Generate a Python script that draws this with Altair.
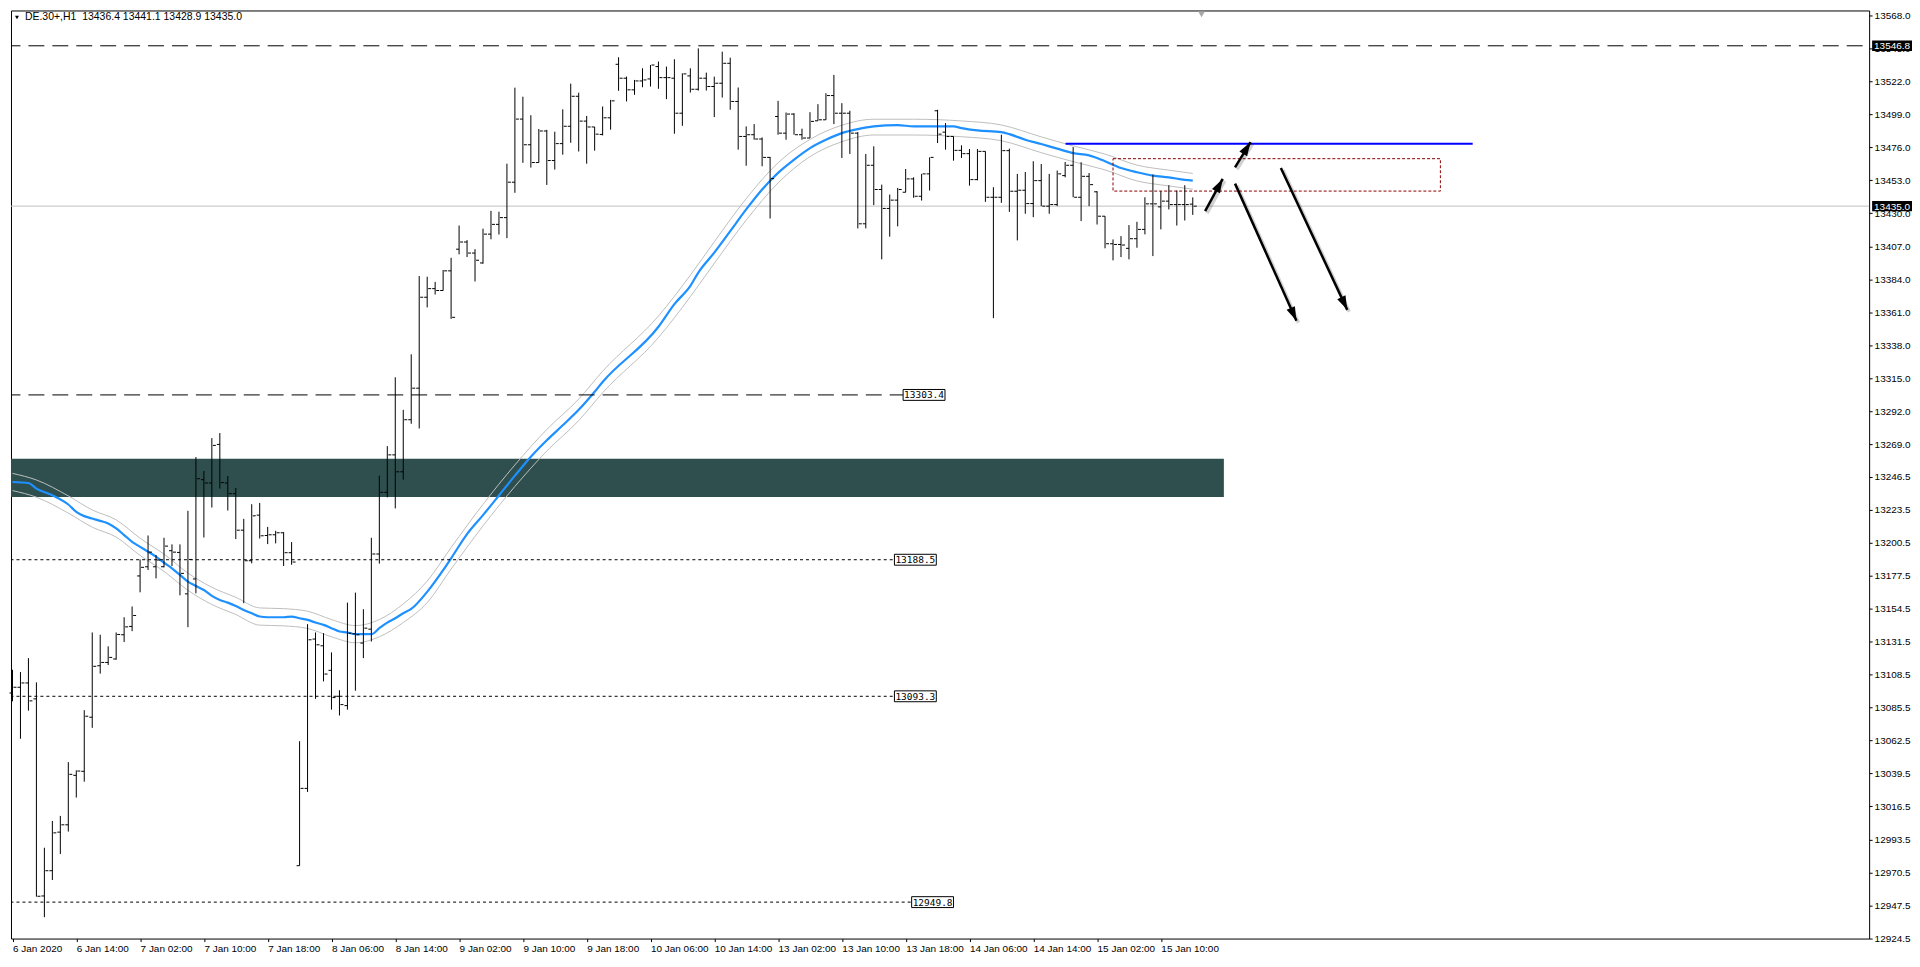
import altair as alt
import pandas as pd

# ---------------- data (DE.30+, H1) ----------------
# bar index 0 = 6 Jan 2020 06:00, one bar per trading hour
opens = [13095.6, 13099.6, 13102.6, 13091.5, 12954.1, 12971.7, 12998.6, 13003.7, 13038.2, 13041.0,
         13078.7, 13114.6, 13116.9, 13119.3, 13136.2, 13142.0, 13177.2, 13183.6, 13183.6, 13183.6,
         13194.8, 13193.6, 13164.7, 13175.1, 13244.3, 13242.0, 13268.9, 13242.0, 13234.6, 13209.1,
         13187.8, 13219.6, 13205.4, 13205.9, 13207.3, 13193.4, 12975.2, 13029.1, 13133.2, 13128.5,
         13111.4, 13093.3, 13086.8, 13136.9, 13130.4, 13140.1, 13192.5, 13235.5, 13261.6, 13249.8,
         13286.1, 13308.1, 13371.5, 13377.5, 13376.2, 13389.9, 13405.0, 13410.0, 13402.3, 13395.4,
         13415.5, 13422.3, 13427.0, 13451.7, 13495.7, 13477.8, 13465.4, 13487.4, 13466.8, 13478.6,
         13490.7, 13511.6, 13494.3, 13490.2, 13485.0, 13496.6, 13533.9, 13524.2, 13516.1, 13522.3,
         13523.7, 13532.3, 13524.6, 13524.2, 13499.8, 13525.8, 13516.5, 13524.2, 13518.4, 13520.7,
         13534.6, 13508.0, 13483.6, 13484.8, 13481.8, 13469.0, 13497.5, 13485.9, 13499.2, 13484.8,
         13482.5, 13494.5, 13495.2, 13512.1, 13499.8, 13499.8, 13485.9, 13422.7, 13463.5, 13446.6,
         13433.4, 13439.2, 13444.7, 13454.0, 13441.9, 13457.5, 13501.5, 13486.6, 13483.6, 13473.9,
         13471.6, 13453.5, 13473.2, 13441.2, 13441.2, 13473.7, 13445.4, 13446.1, 13436.8, 13452.8,
         13435.0, 13436.1, 13456.3, 13463.5, 13441.2, 13455.8, 13445.0, 13428.0, 13408.8, 13408.3,
         13405.6, 13412.3, 13418.8, 13436.6, 13434.5, 13438.5, 13436.1, 13436.1, 13436.4]
highs = [13111.8, 13110.2, 13119.9, 13103.0, 12987.7, 13006.4, 13009.9, 13047.4, 13041.7, 13083.6,
         13137.8, 13136.2, 13128.1, 13137.8, 13148.4, 13155.9, 13188.7, 13205.4, 13191.8, 13203.8,
         13199.2, 13199.2, 13222.6, 13260.1, 13250.4, 13273.3, 13276.8, 13246.9, 13238.5, 13217.0,
         13227.2, 13228.1, 13211.4, 13208.7, 13207.7, 13200.8, 13062.0, 13143.6, 13137.8, 13137.3,
         13123.9, 13097.5, 13158.6, 13165.6, 13154.0, 13203.8, 13247.1, 13267.7, 13315.7, 13293.0,
         13331.7, 13386.3, 13385.8, 13382.2, 13390.5, 13399.0, 13421.5, 13411.3, 13405.0, 13419.3,
         13431.7, 13431.1, 13464.6, 13517.6, 13511.3, 13498.4, 13488.8, 13488.2, 13486.9, 13502.5,
         13520.4, 13514.1, 13497.9, 13490.2, 13504.5, 13509.1, 13538.8, 13525.3, 13523.0, 13531.1,
         13533.4, 13535.8, 13532.3, 13537.4, 13527.6, 13531.1, 13545.0, 13528.1, 13525.3, 13542.7,
         13538.5, 13517.7, 13490.6, 13492.2, 13482.9, 13469.3, 13508.4, 13500.3, 13499.8, 13489.0,
         13500.5, 13506.1, 13513.7, 13526.5, 13506.8, 13501.5, 13486.6, 13471.4, 13476.7, 13450.0,
         13443.1, 13447.7, 13460.9, 13455.1, 13457.5, 13469.0, 13502.2, 13492.9, 13483.6, 13477.4,
         13474.8, 13474.8, 13473.2, 13448.2, 13484.8, 13475.1, 13457.5, 13458.8, 13466.3, 13464.4,
         13457.5, 13459.8, 13465.8, 13476.2, 13465.6, 13458.1, 13445.4, 13428.0, 13411.8, 13414.1,
         13421.8, 13424.1, 13441.2, 13457.0, 13445.4, 13449.6, 13445.9, 13449.6, 13441.1]
lows = [13089.8, 13063.7, 13083.3, 12953.6, 12939.3, 12965.2, 12983.3, 12999.0, 13022.7, 13033.8,
        13071.3, 13109.1, 13115.1, 13118.8, 13131.1, 13138.7, 13165.8, 13181.3, 13175.5, 13183.2,
        13184.1, 13163.7, 13141.5, 13165.1, 13204.0, 13224.9, 13238.1, 13222.8, 13202.9, 13158.2,
        13186.0, 13203.3, 13199.4, 13199.9, 13184.1, 13185.0, 12975.2, 13026.6, 13091.5, 13103.7,
        13084.0, 13079.9, 13084.0, 13097.2, 13119.9, 13131.5, 13185.8, 13232.0, 13224.3, 13244.3,
        13283.3, 13280.0, 13364.4, 13373.4, 13376.2, 13356.4, 13401.4, 13399.5, 13382.5, 13394.9,
        13411.9, 13415.2, 13412.7, 13444.3, 13465.2, 13461.9, 13465.4, 13449.8, 13460.5, 13470.9,
        13479.2, 13473.1, 13464.6, 13473.7, 13484.3, 13488.3, 13515.4, 13508.0, 13512.6, 13517.9,
        13518.4, 13516.8, 13509.6, 13485.5, 13491.0, 13514.2, 13515.6, 13515.6, 13497.1, 13510.7,
        13502.2, 13474.4, 13463.2, 13481.3, 13462.8, 13426.4, 13484.8, 13481.3, 13484.8, 13481.3,
        13482.5, 13494.5, 13495.2, 13492.2, 13468.6, 13471.4, 13419.5, 13419.5, 13435.7, 13397.9,
        13413.7, 13420.9, 13444.7, 13440.8, 13438.9, 13445.9, 13479.0, 13474.4, 13466.7, 13468.6,
        13449.3, 13453.0, 13438.0, 13356.9, 13437.3, 13431.0, 13411.1, 13429.7, 13427.3, 13435.0,
        13429.7, 13435.0, 13455.1, 13441.2, 13424.6, 13435.0, 13422.2, 13405.6, 13397.2, 13399.5,
        13397.9, 13406.0, 13415.3, 13400.2, 13418.8, 13432.7, 13421.5, 13425.0, 13428.9]
closes = [13099.6, 13102.6, 13090.1, 12953.9, 12971.7, 12998.1, 13003.7, 13038.9, 13041.2, 13079.4,
          13114.2, 13116.9, 13120.4, 13136.4, 13141.7, 13149.6, 13183.2, 13193.8, 13188.3, 13198.0,
          13193.8, 13179.0, 13188.7, 13245.0, 13242.0, 13268.2, 13242.3, 13234.6, 13209.1, 13187.8,
          13219.1, 13205.2, 13205.9, 13207.3, 13193.4, 13186.9, 13029.1, 13132.7, 13129.2, 13108.8,
          13092.4, 13087.5, 13137.3, 13136.2, 13140.8, 13192.5, 13235.5, 13261.6, 13249.8, 13286.1,
          13308.1, 13371.5, 13377.5, 13376.2, 13389.9, 13357.5, 13410.0, 13402.3, 13397.3, 13415.5,
          13422.3, 13427.0, 13451.7, 13495.7, 13477.8, 13465.4, 13487.4, 13466.8, 13478.6, 13490.7,
          13511.6, 13494.3, 13490.2, 13485.2, 13496.6, 13508.4, 13524.2, 13516.1, 13522.3, 13523.0,
          13533.4, 13524.6, 13524.6, 13499.8, 13527.2, 13516.5, 13524.2, 13518.4, 13520.7, 13534.6,
          13508.0, 13483.6, 13484.8, 13481.8, 13469.0, 13454.2, 13485.9, 13499.2, 13484.8, 13482.5,
          13494.1, 13495.2, 13512.1, 13499.8, 13499.8, 13485.9, 13422.7, 13463.5, 13446.6, 13433.4,
          13439.2, 13446.6, 13454.0, 13441.9, 13457.5, 13469.0, 13485.2, 13483.6, 13473.9, 13471.6,
          13453.5, 13473.2, 13441.2, 13441.2, 13473.7, 13445.4, 13446.1, 13436.8, 13452.8, 13435.0,
          13436.1, 13457.5, 13463.5, 13441.2, 13455.8, 13450.0, 13428.0, 13408.8, 13408.3, 13407.9,
          13412.3, 13418.8, 13436.6, 13436.6, 13438.5, 13436.1, 13436.1, 13436.1, 13435.0]

# moving average (blue) read at these bars
ma_bar = [0, 2, 3, 5, 7, 8, 9, 10, 11, 12, 13, 14, 15, 16, 17, 18, 19, 20, 21, 22, 23, 24, 25, 26,
          27, 28, 29, 30, 31, 32, 33, 34, 35, 36, 37, 38, 39, 40, 41, 42, 43, 45, 46, 47, 48, 49, 50,
          52, 54, 55, 57, 59, 61, 63, 65, 67, 69, 71, 73, 74, 81, 83, 85, 86, 88, 90, 92, 94, 96, 98,
          100, 102, 104, 106, 108, 111, 113, 118, 119, 121, 124, 125, 127, 129, 131, 133, 135, 137,
          139, 141, 143, 145, 147, 148]
ma_val = [13242.7, 13242.0, 13238.1, 13233.5, 13227.0, 13221.9, 13218.9, 13217.2, 13215.6, 13213.8,
          13210.3, 13205.7, 13201.0, 13197.5, 13194.1, 13190.6, 13186.4, 13182.5, 13177.9, 13173.2,
          13170.2, 13167.4, 13163.3, 13160.5, 13158.6, 13156.3, 13153.5, 13151.2, 13148.9, 13148.4,
          13148.4, 13148.4, 13148.9, 13147.7, 13146.6, 13144.7, 13143.1, 13140.8, 13138.5, 13137.8,
          13136.6, 13136.6, 13140.8, 13144.7, 13147.7, 13151.2, 13154.2, 13166.1, 13181.2, 13189.5,
          13206.4, 13219.6, 13233.3, 13247.1, 13260.3, 13271.8, 13282.2, 13293.0, 13305.6, 13312.4,
          13350.9, 13366.7, 13379.4, 13388.7, 13402.6, 13417.6, 13432.7, 13446.6, 13458.2, 13467.4,
          13475.5, 13481.3, 13485.9, 13488.7, 13490.6, 13491.5, 13490.6, 13490.6, 13489.4, 13487.8,
          13486.6, 13485.2, 13481.3, 13478.3, 13475.1, 13472.0, 13470.4, 13466.3, 13461.6, 13458.6,
          13456.3, 13455.1, 13453.3, 13452.8]

# thin grey envelope lines
env_bar = [0, 3, 7, 10, 13, 16, 19, 22, 25, 28, 31, 34, 37, 40, 43, 46, 49, 52, 55, 59, 63, 67, 71,
           74, 81, 85, 88, 92, 96, 100, 104, 108, 113, 119, 124, 129, 133, 137, 141, 145, 148]
env_hi = [13248.7, 13244.1, 13233.0, 13223.2, 13216.3, 13203.5, 13192.4, 13179.2, 13169.3, 13162.3,
          13154.9, 13154.4, 13152.6, 13146.8, 13142.6, 13146.8, 13157.7, 13173.6, 13197.0, 13227.1,
          13254.6, 13279.3, 13300.5, 13319.9, 13358.4, 13386.9, 13410.1, 13440.2, 13465.2, 13481.5,
          13491.4, 13495.6, 13495.6, 13494.4, 13491.6, 13483.3, 13477.0, 13471.3, 13463.6, 13460.1,
          13457.8]
env_lo = [13236.7, 13232.1, 13221.0, 13211.2, 13204.3, 13191.5, 13180.4, 13167.2, 13157.3, 13150.3,
          13142.9, 13142.4, 13140.6, 13134.8, 13130.6, 13134.8, 13144.7, 13158.6, 13182.0, 13212.1,
          13239.6, 13264.3, 13285.5, 13304.9, 13343.4, 13371.9, 13395.1, 13425.2, 13451.2, 13469.5,
          13479.9, 13484.6, 13484.6, 13483.4, 13480.6, 13472.3, 13466.0, 13460.3, 13452.6, 13449.1,
          13446.8]

x_labels = ["6 Jan 2020", "6 Jan 14:00", "7 Jan 02:00", "7 Jan 10:00", "7 Jan 18:00",
            "8 Jan 06:00", "8 Jan 14:00", "9 Jan 02:00", "9 Jan 10:00", "9 Jan 18:00",
            "10 Jan 06:00", "10 Jan 14:00", "13 Jan 02:00", "13 Jan 10:00", "13 Jan 18:00",
            "14 Jan 06:00", "14 Jan 14:00", "15 Jan 02:00", "15 Jan 10:00"]
x_label_bars = [0, 8, 16, 24, 32, 40, 48, 56, 64, 72, 80, 88, 96, 104, 112, 120, 128, 136, 144]

y_ticks = [13568.0, 13545.0, 13522.0, 13499.0, 13476.0, 13453.0, 13430.0, 13407.0, 13384.0,
           13361.0, 13338.0, 13315.0, 13292.0, 13269.0, 13246.5, 13223.5, 13200.5, 13177.5,
           13154.5, 13131.5, 13108.5, 13085.5, 13062.5, 13039.5, 13016.5, 12993.5, 12970.5,
           12947.5, 12924.5]

# drawn objects (time as bar index, price)
top_level = 13546.8
dashed_levels = [13303.4]
dashed_level_end = [111.68]
dotted_levels = [13188.5, 13093.3, 12949.8]
dotted_level_end = [110.59, 110.59, 112.75]
zone_x, zone_x2, zone_lo, zone_hi = -1, 151.9, 13232.3, 13258.9
blue_x, blue_x2, blue_y = 132.05, 183.1, 13478.5
red_x, red_x2, red_lo, red_hi = 138.0, 179.05, 13445.5, 13468.1
arrow_x = [149.55, 153.30, 153.30, 159.05]
arrow_y = [13431.5, 13462.1, 13450.7, 13461.6]
arrow_x2 = [151.75, 155.25, 161.00, 167.375]
arrow_y2 = [13454.0, 13479.7, 13355.1, 13362.7]
arrow_angle = [28.6, 31.7, 155.9, 154.9]
shift_marker = [149.1]
symbol_name = "DE.30+,H1"

# ---------------- chart ----------------
W, H = 1864, 931
XS = alt.Scale(domain=[-0.1875, 232.8125], nice=False, zero=False)
YS = alt.Scale(domain=[12924.4, 13571.41], nice=False, zero=False)
FONT = "Liberation Sans"

label_expr = "[" + ",".join("'" + s + "'" for s in x_labels) + "][round(datum.value / 8)]"
x_axis = alt.Axis(values=x_label_bars, labelExpr=label_expr, title=None, grid=False, domain=False,
                  tickSize=3, tickColor="black", labelAlign="left", labelBaseline="top",
                  labelPadding=2, labelFont=FONT, labelFontSize=10, labelColor="black",
                  labelOverlap=False, labelFlush=False, labelBound=False)
y_axis = alt.Axis(orient="right", values=y_ticks, format=".1f", title=None, grid=False,
                  domain=False, tickSize=3, tickColor="black", labelPadding=2, labelFont=FONT,
                  labelFontSize=10, labelColor="black", labelOverlap=False, labelFlush=False,
                  labelBound=False)


def X(f):
    return alt.X(f, type="quantitative", scale=XS, axis=x_axis)


def Y(f):
    return alt.Y(f, type="quantitative", scale=YS, axis=y_axis)


bars = pd.DataFrame({"i": list(range(len(opens))), "o": opens, "h": highs, "l": lows, "c": closes})
ma_df = pd.DataFrame({"i": ma_bar, "v": ma_val})
env_df = pd.concat([
    pd.DataFrame({"i": env_bar, "v": env_hi, "band": "hi"}),
    pd.DataFrame({"i": env_bar, "v": env_lo, "band": "lo"}),
])
one = pd.DataFrame({"a": [0]})

zone = alt.Chart(pd.DataFrame({"x": [zone_x], "x2": [zone_x2], "y": [zone_lo], "y2": [zone_hi]})).mark_rect(
    color="#2F4F4F", clip=True).encode(x=X("x"), x2="x2", y=Y("y"), y2="y2")

full_lines = pd.DataFrame({"s": [-1], "e": [240]})
price_line = alt.Chart(full_lines.assign(v=closes[-1])).mark_rule(
    color="#C0C0C0", strokeWidth=1, clip=True).encode(x=X("s"), x2="e", y=Y("v"))
top_line = alt.Chart(full_lines.assign(v=top_level)).mark_rule(
    color="black", strokeWidth=1, strokeDash=[16, 8], clip=True).encode(x=X("s"), x2="e", y=Y("v"))

dashed_df = pd.DataFrame({"s": -1, "e": dashed_level_end, "v": dashed_levels})
dotted_df = pd.DataFrame({"s": -1, "e": dotted_level_end, "v": dotted_levels})
dashed = alt.Chart(dashed_df).mark_rule(color="black", strokeWidth=1, strokeDash=[16, 8], clip=True).encode(
    x=X("s"), x2="e", y=Y("v"))
dotted = alt.Chart(dotted_df).mark_rule(color="black", strokeWidth=1, strokeDash=[3, 3], clip=True).encode(
    x=X("s"), x2="e", y=Y("v"))
levels_df = pd.concat([dashed_df, dotted_df])
BOX42 = "M-1,-0.26L1,-0.26L1,0.26L-1,0.26Z"
level_box = alt.Chart(levels_df).mark_point(
    shape=BOX42, size=1764, filled=True, fill="white", stroke="black", strokeWidth=1, opacity=1,
    xOffset=21).encode(x=X("e"), y=Y("v"))
level_txt = alt.Chart(levels_df).mark_text(
    font="DejaVu Sans Mono", fontSize=9.5, color="black", align="center", baseline="middle",
    xOffset=21, dy=0.5).encode(x=X("e"), y=Y("v"), text=alt.Text("v:Q", format=".1f"))

envelope = alt.Chart(env_df).mark_line(color="#BEBEBE", strokeWidth=1, interpolate="monotone").encode(
    x=X("i"), y=Y("v"), detail="band:N")
ma_line = alt.Chart(ma_df).mark_line(color="#1E90FF", strokeWidth=2.2, interpolate="monotone").encode(
    x=X("i"), y=Y("v"))

red_rect = alt.Chart(pd.DataFrame({"x": [red_x], "x2": [red_x2], "y": [red_lo], "y2": [red_hi]})).mark_rect(
    fill="white", fillOpacity=0, stroke="#8B0000", strokeWidth=1, strokeDash=[3, 2]).encode(
    x=X("x"), x2="x2", y=Y("y"), y2="y2")
blue_line = alt.Chart(pd.DataFrame({"x": [blue_x], "x2": [blue_x2], "y": [blue_y]})).mark_rule(
    color="#0000FF", strokeWidth=2).encode(x=X("x"), x2="x2", y=Y("y"))

hl = alt.Chart(bars).mark_rule(color="black", strokeWidth=1).encode(
    x=X("i"), y=Y("l"), y2="h")
open_tick = alt.Chart(bars).mark_tick(orient="horizontal", size=3, thickness=1, color="black",
                                      opacity=1, xOffset=-1.5).encode(x=X("i"), y=Y("o"))
close_tick = alt.Chart(bars).mark_tick(orient="horizontal", size=3, thickness=1, color="black",
                                       opacity=1, xOffset=2.5).encode(x=X("i"), y=Y("c"))

arrows_df = pd.DataFrame({"x": arrow_x, "y": arrow_y, "x2": arrow_x2, "y2": arrow_y2, "ang": arrow_angle})
arrow_shadow = alt.Chart(arrows_df).mark_rule(
    color="black", opacity=0.18, strokeWidth=3.5, xOffset=2, yOffset=2, x2Offset=2, y2Offset=2).encode(
    x=X("x"), y=Y("y"), x2="x2", y2="y2")
arrow_body = alt.Chart(arrows_df).mark_rule(color="black", strokeWidth=2.5).encode(
    x=X("x"), y=Y("y"), x2="x2", y2="y2")
arrow_head = alt.Chart(arrows_df).mark_point(
    shape="M0,0L0.65,2L-0.65,2Z", size=196, filled=True, color="black", opacity=1).encode(
    x=X("x2"), y=Y("y2"), angle=alt.Angle("ang:Q", scale=None))

shift = alt.Chart(pd.DataFrame({"x": shift_marker})).mark_point(
    shape="triangle-down", filled=True, color="#A9A9A9", opacity=1, size=45).encode(
    x=X("x"), y=alt.value(4))

header_text = symbol_name + "\u00a0\u00a0" + " ".join(
    f"{v:.1f}" for v in (opens[-1], highs[-1], lows[-1], closes[-1]))
header_tri = alt.Chart(one).mark_point(shape="triangle-down", filled=True, color="black",
                                       opacity=1, size=16).encode(x=alt.value(6), y=alt.value(7))
header = alt.Chart(one).mark_text(font=FONT, fontSize=10.5, color="black", align="left",
                                  baseline="middle", text=header_text).encode(
    x=alt.value(14), y=alt.value(7))

BOX40 = "M-1,-0.26L1,-0.26L1,0.26L-1,0.26Z"
hi_df = pd.DataFrame({"v": [top_level, closes[-1]]})
hi_box = alt.Chart(hi_df).mark_point(shape=BOX40, size=1600, filled=True, color="black",
                                     opacity=1).encode(x=alt.value(W + 23), y=Y("v"))
hi_txt = alt.Chart(hi_df).mark_text(font=FONT, fontSize=10, color="white", align="center",
                                    baseline="middle", dy=0.5).encode(
    x=alt.value(W + 23), y=Y("v"), text=alt.Text("v:Q", format=".1f"))

chart = alt.layer(
    zone, price_line, envelope, ma_line, top_line, dashed, dotted, red_rect, blue_line,
    hl, open_tick, close_tick, arrow_shadow, arrow_body, arrow_head,
    level_box, level_txt, shift, header_tri, header, hi_box, hi_txt,
).properties(width=W, height=H, padding=0, background="white").configure_view(
    stroke="black", strokeWidth=1)

chart.save("out.html", embed_options={"renderer": "svg", "actions": False})
